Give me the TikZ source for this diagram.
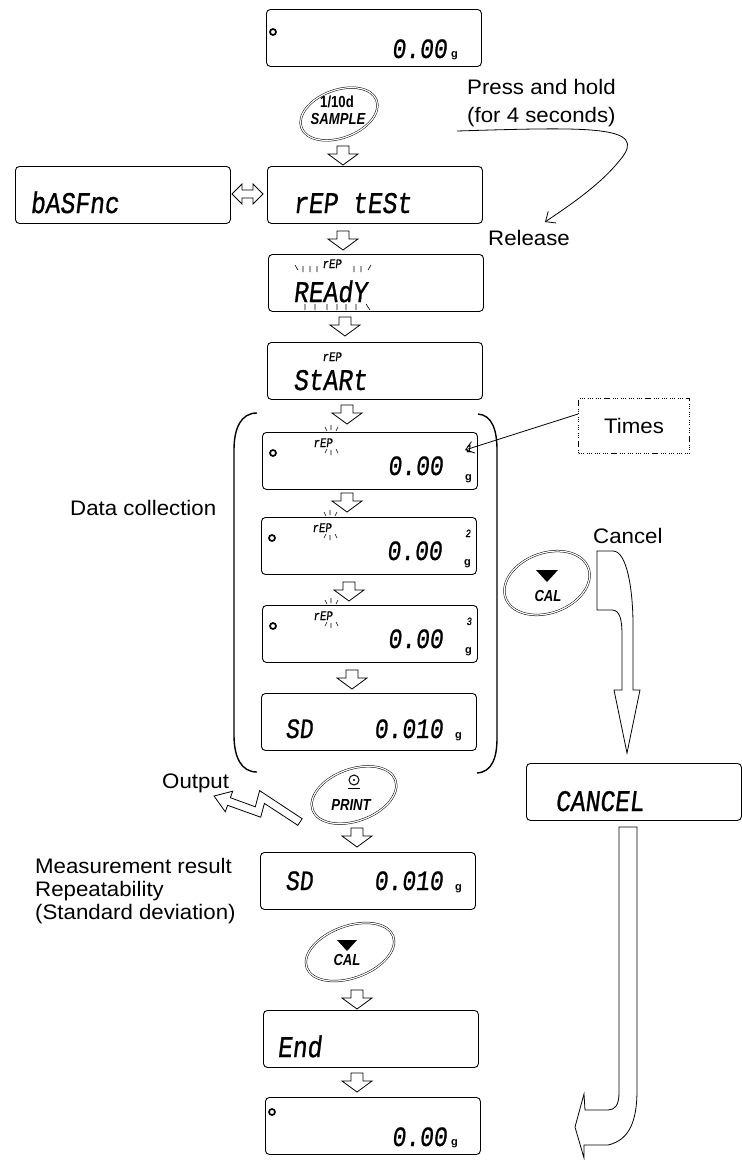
\documentclass[tikz,border=0pt]{standalone}
\usepackage{fontspec}
\setmainfont{Liberation Sans}
\newfontfamily\lab[FakeStretch=1.06]{Liberation Sans}
\newfontfamily\seg[FakeSlant=0.12,FakeStretch=0.82,FakeBold=0.8]{Liberation Mono}
\newfontfamily\btn[FakeStretch=0.82]{Liberation Sans}
\usetikzlibrary{arrows.meta,calc}
\newcommand\dnar[2]{\draw[hol] ({#1-6},{#2}) -- ({#1+6},{#2}) -- ({#1+6},{#2+8}) -- ({#1+15},{#2+8}) -- ({#1},{#2+19}) -- ({#1-15},{#2+8}) -- ({#1-6},{#2+8}) -- cycle;}
\newcommand\repdisp[3]{%
  \node[disp] (#1) at (#2) {};
  \draw[line width=1.7pt] ($(#1.north west)+(11,21)$) circle (3);
  \node[segsm] (#1r) at ($(#1.north west)+(51,15)$) {rEP};
  \draw[tick] ($(#1.north west)+(63,-5)$) -- ++(2,4)
              ($(#1.north west)+(69,-7)$) -- ++(0,5)
              ($(#1.north west)+(76,-5)$) -- ++(-2,4)
              ($(#1.north west)+(63,21)$) -- ++(2,-4)
              ($(#1.north west)+(69,23)$) -- ++(0,-5)
              ($(#1.north west)+(76,21)$) -- ++(-2,-4);
  \node[segnum, anchor=base east] (#1v) at ($(#1.north west)+(181,43)$) {0.00};
  \node[segidx] (#1i) at ($(#1.north west)+(204,20)$) {#3};
  \node[unit] (#1g) at ($(#1.north west)+(203,48)$) {g};
}
\begin{document}
\begin{tikzpicture}[x=1pt,y=-1pt,
  disp/.style={draw, line width=0.9pt, rounded corners=4pt, minimum width=215pt, minimum height=57pt, anchor=north west, inner sep=0pt},
  hol/.style={draw, line width=0.8pt, fill=white, line join=miter},
  lbl/.style={font=\lab\fontsize{21}{23}\selectfont, anchor=base west, inner sep=0pt},
  segbig/.style={font=\seg\fontsize{30}{30}\selectfont, anchor=base west, inner sep=0pt},
  segnum/.style={font=\seg\fontsize{28}{28}\selectfont, anchor=base west, inner sep=0pt},
  segsm/.style={font=\seg\fontsize{13}{13}\selectfont, anchor=base west, inner sep=0pt},
  segidx/.style={font=\seg\fontsize{11}{11}\selectfont, anchor=base west, inner sep=0pt},
  unit/.style={font=\bfseries\fontsize{11}{11}\selectfont, anchor=base west, inner sep=0pt},
  btntxt/.style={font=\btn\bfseries\fontsize{16}{16}\selectfont, inner sep=0pt},
  btnit/.style={font=\btn\bfseries\itshape\fontsize{16}{16}\selectfont, inner sep=0pt},
  dbl/.style={draw, line width=0.5pt, double, double distance=1.2pt},
  tick/.style={line width=0.6pt},
  thin/.style={line width=0.8pt}]
\useasboundingbox (0,0) rectangle (742,1160);

% top display
\node[disp] (d0) at (266,9) {};
\draw[line width=1.7pt] (273,32) circle (3);
\node[segnum, anchor=base east] (d0v) at (447,58) {0.00};
\node[unit] (d0g) at (451,57) {g};

% SAMPLE key
\node[btntxt] (sampleA) at (337,102) {1/10d};
\node[btnit] (sampleB) at (338,119) {SAMPLE};
\draw[dbl, rotate around={20:(339,114)}] (339,114) ellipse (40 and 24);
\dnar{343}{146}

% press and hold
\node[lbl] (press) at (467,94) {Press and hold};
\node[lbl] (for4) at (467,122) {(for 4 seconds)};
\node[lbl] (rel) at (488,245) {Release};
\coordinate (phs) at (457,131);
\coordinate (phe) at (545,222);
\draw[thin, -{Straight Barb[length=8pt,width=14pt]}] (phs) .. controls (590,127) and (650,125) .. (620,160) .. controls (600,185) and (570,205) .. (phe);

% bASFnc <-> rEP tESt
\node[disp] (bas) at (15,166) {};
\node[segbig] (basv) at (30,213) {bASFnc};
\draw[hol] (232,194) -- (242,184) -- (242,190) -- (253,190) -- (253,184) -- (263,194) -- (253,204) -- (253,198) -- (242,198) -- (242,204) -- cycle;
\node[disp] (rep) at (267,166) {};
\node[segbig] (repv) at (293,213) {rEP tESt};
\dnar{343}{231}

% READY
\node[disp] (ready) at (268,254) {};
\node[segsm] (readyr) at (322,268) {rEP};
\node[segbig] (readyv) at (293,302) {REAdY};
\draw[tick] (295,265) -- (298,270) (303,266) -- (303,272) (310,266) -- (310,272) (317,266) -- (317,272)
  (354,266) -- (354,272) (361,266) -- (361,272) (371,265) -- (368,270)
  (305,304) -- (305,310) (315,304) -- (315,310) (327,304) -- (327,310) (337,304) -- (337,310)
  (346,304) -- (346,310) (356,304) -- (356,310) (366,304) -- (370,310);
\dnar{345}{317}

% START
\node[disp] (start) at (267,342) {};
\node[segsm] (startr) at (322,361) {rEP};
\node[segbig] (startv) at (293,390) {StARt};
\dnar{347}{405}

% data collection displays
\repdisp{d1}{262,432}{1}
\dnar{347}{493}
\repdisp{d2}{261,517}{2}
\dnar{349}{582}
\repdisp{d3}{262,605}{3}
\dnar{352}{670}
\node[disp] (d4) at (261,693) {};
\node[segnum] (d4s) at (285,738) {SD};
\node[segnum, anchor=base east] (d4v) at (443,738) {0.010};
\node[unit] (d4g) at (455,738) {g};

% brackets
\draw[line width=1.4pt] (257,413) .. controls (241,413) and (234,428) .. (234,450) -- (234,735) .. controls (234,757) and (241,772) .. (257,772);
\draw[line width=1.4pt] (478,414) .. controls (492,415) and (497,430) .. (497,450) -- (497,738) .. controls (497,758) and (492,772) .. (477,773);
\node[lbl] (datac) at (70,515) {Data collection};

% Times
\node[draw, line width=1.1pt, dash pattern=on 1.2pt off 0.8pt on 1.2pt off 0.8pt on 1.2pt off 3pt, minimum width=111pt, minimum height=55pt, anchor=north west, font=\lab\fontsize{21}{23}\selectfont] (times) at (578,398) {Times};
\coordinate (idx) at (465,450);
\draw[thin, -{Straight Barb[length=8pt,width=12pt]}] ($(times.north west)+(0,16)$) -- (idx);

% Cancel path
\node[lbl] (cancel) at (593,543) {Cancel};
\node[btntxt] (cal1t) at (548,596) {\itshape CAL};
\fill (536,570) -- (558,570) -- (547,582) -- cycle;
\draw[dbl, rotate around={20:(547,583)}] (547,583) ellipse (44 and 30);
\draw[hol] (597,551) -- (613,551) .. controls (627,551) and (633,590) .. (633,625) -- (633,690) -- (640,690) -- (627,753) -- (614,690) -- (622,690) -- (622,635) .. controls (622,620) and (620,610) .. (612,610) -- (597,610) -- cycle;
\node[disp] (canc) at (526,763) {};
\node[segbig] (cancv) at (555,811) {CANCEL};
\draw[hol] (619,827) -- (619,1093) .. controls (619,1105) and (615,1110) .. (608,1110) -- (585,1110) -- (584,1094) -- (575,1127) -- (584,1158) -- (584,1145) -- (608,1145) .. controls (630,1140) and (637,1120) .. (637,1090) -- (637,827) -- cycle;

% PRINT and output
\node[lbl] (output) at (162,788) {Output};
\draw[hol] (214,796) -- (232.7,791.2) -- (230.4,797.7) -- (255.3,806.8) -- (259.6,790.6) -- (302.2,818.7) -- (297.8,825.3) -- (264.4,803.4) -- (260.7,817.2) -- (227.6,805.3) -- (225.3,811.8) -- cycle;
\draw[line width=1pt] (354,780) circle (5);
\fill (354,780) circle (1.2);
\draw[line width=1pt] (348,788) -- (360,788);
\node[btnit] (printt) at (351,805) {PRINT};
\draw[dbl, rotate around={20:(354,795)}] (354,795) ellipse (44 and 26);
\dnar{357}{828}

% result
\node[disp] (d5) at (260,852) {};
\node[segnum] (d5s) at (285,890) {SD};
\node[segnum, anchor=base east] (d5v) at (443,890) {0.010};
\node[unit] (d5g) at (455,890) {g};
\node[lbl] (m1) at (35,873) {Measurement result};
\node[lbl] (m2) at (35,896) {Repeatability};
\node[lbl] (m3) at (35,919) {(Standard deviation)};

% CAL 2
\node[btntxt] (cal2t) at (347,960) {\itshape CAL};
\fill (337,940) -- (357,940) -- (347,951) -- cycle;
\draw[dbl, rotate around={20:(350,952)}] (350,952) ellipse (46 and 26);
\dnar{357}{990}

% End
\node[disp] (endd) at (263,1010) {};
\node[segbig] (endv) at (277,1057) {End};
\dnar{357}{1073}

% final display
\node[disp] (d6) at (265,1097) {};
\draw[line width=1.7pt] (272,1112) circle (3);
\node[segnum, anchor=base east] (d6v) at (447,1146) {0.00};
\node[unit] (d6g) at (451,1145) {g};
\end{tikzpicture}
\end{document}
